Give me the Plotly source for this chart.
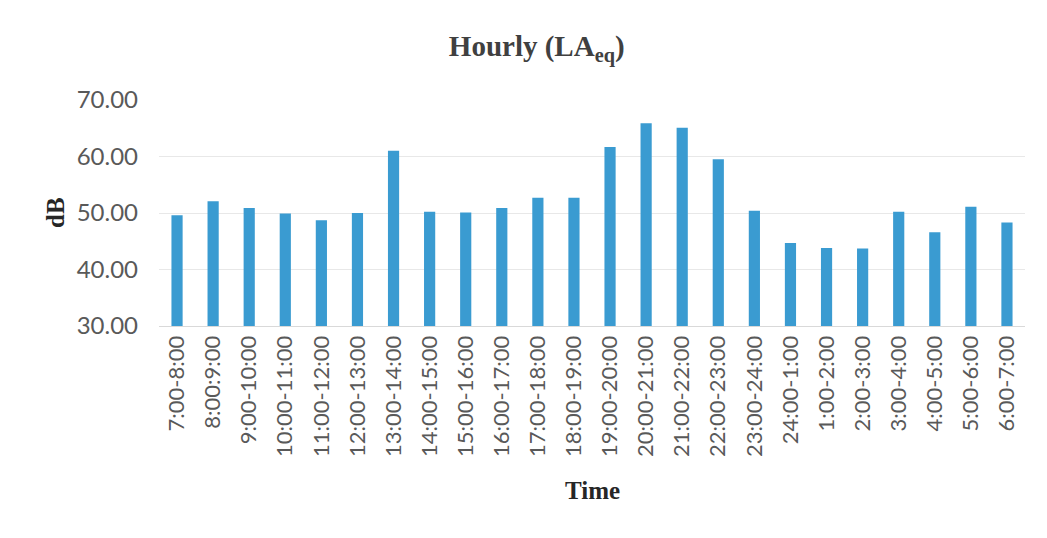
import plotly.graph_objects as go

categories = ["7:00-8:00", "8:00:9:00", "9:00-10:00", "10:00-11:00", "11:00-12:00",
              "12:00-13:00", "13:00-14:00", "14:00-15:00", "15:00-16:00", "16:00-17:00",
              "17:00-18:00", "18:00-19:00", "19:00-20:00", "20:00-21:00", "21:00-22:00",
              "22:00-23:00", "23:00-24:00", "24:00-1:00", "1:00-2:00", "2:00-3:00",
              "3:00-4:00", "4:00-5:00", "5:00-6:00", "6:00-7:00"]
laeq = [49.6, 52.1, 50.9, 49.9, 48.7, 50.0, 61.0, 50.2, 50.1, 50.9, 52.7, 52.7,
        61.7, 65.9, 65.1, 59.5, 50.4, 44.7, 43.8, 43.7, 50.2, 46.6, 51.1, 48.3]
y_ticks = [30, 40, 50, 60, 70]

fig = go.Figure(go.Bar(x=categories, y=laeq, marker_color="#3a9bd1",
                       marker_line_width=0))

fig.update_layout(
    width=1047, height=538,
    paper_bgcolor="white", plot_bgcolor="white",
    margin=dict(l=151, r=30, t=92, b=220),
    bargap=0.69,
    showlegend=False,
    title=dict(text="Hourly (LA<sub>eq</sub>)", x=0.505, xanchor="center", y=0.93, yanchor="middle",
               font=dict(family="Liberation Serif", size=29, color="#404040", weight="bold")),
    annotations=[
        dict(text="Time", xref="paper", yref="paper", x=0.5, y=0, yshift=-164,
             xanchor="center", yanchor="middle", showarrow=False,
             font=dict(family="Liberation Serif", size=25, color="#262626", weight="bold")),
        dict(text="dB", xref="paper", yref="paper", x=0, y=0.5, xshift=-104, textangle=-90,
             xanchor="center", yanchor="middle", showarrow=False,
             font=dict(family="Liberation Serif", size=25, color="#262626", weight="bold")),
    ],
)
fig.update_yaxes(range=[30, 70], tickvals=y_ticks, tickformat=".2f", automargin=False,
                 showgrid=True, gridcolor="#e8e8e8", gridwidth=1, zeroline=False,
                 showline=False, ticks="", ticklabelstandoff=20,
                 tickfont=dict(family="Lato", size=24, color="#595959"))
fig.update_xaxes(tickangle=-90, showgrid=False, showline=True, linecolor="#d9d9d9", linewidth=1,
                 automargin=False, ticks="",
                 tickfont=dict(family="Lato", size=22, color="#595959"))

fig.write_html("out.html")
